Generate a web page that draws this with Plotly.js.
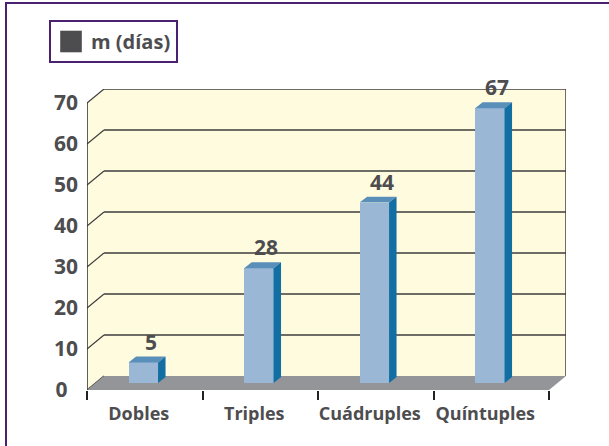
<!DOCTYPE html>
<html>
<head>
<meta charset="utf-8">
<script src="https://cdn.plot.ly/plotly-3.0.1.min.js"></script>
<style>
  html, body { margin:0; padding:0; background:#fff; }
  #chart { width:609px; height:446px; position:relative; }
  #frame { position:absolute; left:5px; top:2px; width:610px; height:450px;
           border-left:2px solid #4a2170; border-top:2px solid #4a2170; pointer-events:none; }
</style>
</head>
<body>
<div id="chart"></div>
<div id="frame"></div>
<script>
// ---- data ----
const categories = ['Dobles', 'Triples', 'Cuádruples', 'Quíntuples'];
const values = [5, 28, 44, 67];
const seriesName = 'm (días)';
const yTicks = [0, 10, 20, 30, 40, 50, 60, 70];

// ---- styling / geometry constants ----
const FONT = 'Open Sans, DejaVu Sans, sans-serif';
const TXT = '#4d4d4f';
const wallDX = 0.147, wallDY = 3.418;    // depth of the back wall (data units)
const barBase = 1.71;                    // bars stand mid-floor
const barW = 0.255, barOff = -0.14;      // bar width / left edge offset from category centre
const bDX = 0.065, bDY = 1.45;           // bar depth
const n = categories.length;
const xMin = -0.5, xMax = n - 0.5 + wallDX;
const yMax = 70 + wallDY;

// front faces (bar trace)
const front = {
  type: 'bar', x: categories, y: values, base: barBase,
  width: barW, offset: barOff,
  marker: { color: '#9ab7d5', line: { width: 0 } },
  showlegend: false, hoverinfo: 'x+y'
};

// top and side faces built from the values
const topX = [], topY = [], sideX = [], sideY = [];
values.forEach((v, i) => {
  const l = i + barOff, r = l + barW, t = barBase + v, b = barBase;
  topX.push(l, r, r + bDX, l + bDX, l, null);
  topY.push(t, t, t + bDY, t + bDY, t, null);
  sideX.push(r, r + bDX, r + bDX, r, r, null);
  sideY.push(b, b + bDY, t + bDY, t, b, null);
});
const tops = { type: 'scatter', x: topX, y: topY, xaxis: 'x2', mode: 'lines', fill: 'toself',
  fillcolor: '#5a8fba', line: { width: 0, color: '#5a8fba' }, hoverinfo: 'skip', showlegend: false };
const sides = { type: 'scatter', x: sideX, y: sideY, xaxis: 'x2', mode: 'lines', fill: 'toself',
  fillcolor: '#136ea3', line: { width: 0, color: '#136ea3' }, hoverinfo: 'skip', showlegend: false };

// legend entry
const legendItem = { type: 'scatter', x: [null], y: [null], xaxis: 'x2', mode: 'markers', name: seriesName,
  marker: { symbol: 'square', size: 16, color: '#4d4d4f' }, showlegend: true, hoverinfo: 'skip' };

// walls, floor and gridlines
const shapes = [];
shapes.push({ type: 'path', xref: 'x2', yref: 'y', layer: 'below',
  path: `M${xMin},0 L${xMin + wallDX},${wallDY} L${xMin + wallDX},${yMax} L${xMin},70 Z`,
  fillcolor: '#fffbdf', line: { width: 0 } });
shapes.push({ type: 'rect', xref: 'x2', yref: 'y', layer: 'below',
  x0: xMin + wallDX, x1: xMax, y0: wallDY, y1: yMax,
  fillcolor: '#fffbdf', line: { width: 0 } });
yTicks.forEach(t => {
  if (t > 0) {
    shapes.push({ type: 'line', xref: 'x2', yref: 'y', layer: 'below',
      x0: xMin + wallDX, x1: xMax, y0: t + wallDY, y1: t + wallDY,
      line: { color: '#3d3d3d', width: 1.3 } });
  }
  shapes.push({ type: 'line', xref: 'x2', yref: 'y', layer: 'below',
    x0: xMin, x1: xMin + wallDX, y0: t, y1: t + wallDY,
    line: { color: '#3d3d3d', width: 1.2 } });
});
shapes.push({ type: 'line', xref: 'x2', yref: 'y', layer: 'below',
  x0: xMax, x1: xMax, y0: wallDY, y1: yMax, line: { color: '#3d3d3d', width: 1.5 } });
shapes.push({ type: 'path', xref: 'x2', yref: 'y', layer: 'below',
  path: `M${xMin},0 L${n - 0.5},0 L${xMax},${wallDY} L${xMin + wallDX},${wallDY} Z`,
  fillcolor: '#939598', line: { width: 0 } });
shapes.push({ type: 'line', xref: 'x2', yref: 'y', layer: 'below',
  x0: xMin, x1: xMin, y0: 0, y1: 70, line: { color: '#2b2b2b', width: 1.5 } });

// value labels
const annotations = values.map((v, i) => ({
  xref: 'x2', yref: 'y', x: i + barOff + barW / 2 + bDX, y: barBase + v + bDY,
  text: String(v), showarrow: false, yanchor: 'bottom', yshift: -1,
  font: { family: FONT, size: 21, color: TXT, weight: 700 }
}));

const layout = {
  width: 609, height: 446,
  margin: { l: 87, r: 43, t: 89, b: 56, pad: 0 },
  paper_bgcolor: '#ffffff', plot_bgcolor: 'rgba(0,0,0,0)',
  bargap: 0,
  xaxis: {
    type: 'category', range: [xMin, xMax], tickson: 'boundaries',
    ticks: 'outside', ticklen: 9, tickwidth: 2, tickcolor: '#222',
    tickangle: 0, ticklabelshift: -6, ticklabelstandoff: 11,
    showgrid: false, zeroline: false, showline: false,
    tickfont: { family: FONT, size: 18, color: TXT, weight: 700 },
    fixedrange: true
  },
  xaxis2: { overlaying: 'x', range: [xMin, xMax], visible: false, fixedrange: true },
  yaxis: {
    range: [0, yMax], tickvals: yTicks,
    ticktext: yTicks.map(t => t < 10 ? t + '\u2002' : String(t)),
    ticks: '', showgrid: false, zeroline: false, showline: false,
    ticklabelstandoff: 8,
    tickfont: { family: FONT, size: 21, color: TXT, weight: 700 },
    fixedrange: true
  },
  showlegend: true,
  legend: {
    x: (49 - 87) / 479, y: (390 - 20) / 301, xanchor: 'left', yanchor: 'top',
    bgcolor: '#ffffff', bordercolor: '#4a2170', borderwidth: 2,
    font: { family: FONT, size: 20, color: TXT, weight: 700 },
    itemsizing: 'trace'
  },
  shapes: shapes,
  annotations: annotations
};

Plotly.newPlot('chart', [front, tops, sides, legendItem], layout, { displayModeBar: false, staticPlot: true })
  .then(gd => {
    // enlarge the legend swatch to match the reference's bigger square
    gd.querySelectorAll('.legend .legendpoints path').forEach(p => {
      const tr = p.getAttribute('transform') || '';
      p.setAttribute('transform', tr + ' scale(1.35)');
    });
  });
</script>
</body>
</html>
